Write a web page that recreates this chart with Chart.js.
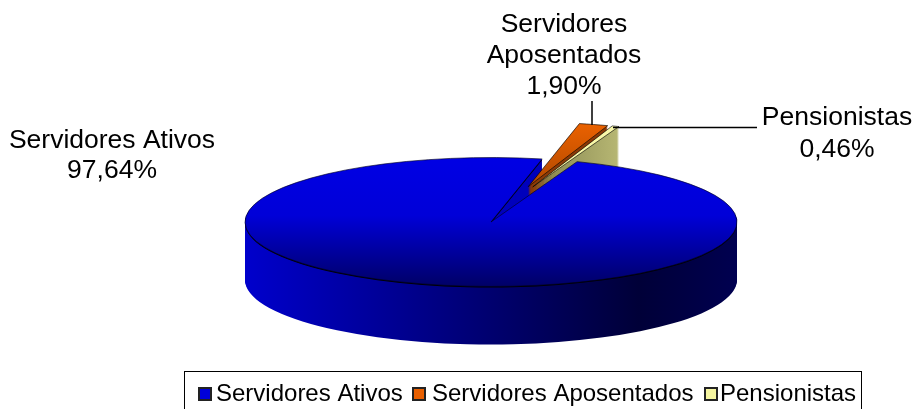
<!DOCTYPE html>
<html>
<head>
<meta charset="utf-8">
<style>
  html, body { margin: 0; padding: 0; background: #fff; }
  canvas { display: block; }
</style>
<script src="https://cdn.jsdelivr.net/npm/chart.js@4"></script>
</head>
<body>
<canvas id="pie-chart" width="915" height="409"></canvas>
<script>
const categories = ['Servidores Ativos', 'Servidores Aposentados', 'Pensionistas'];
const values = [97.64, 1.90, 0.46];
const colors = ['#0000d8', '#e85f00', '#f5f5a0'];

// look of the 3d pie
const squash = 0.262;
const depth = 58;
const explode = [0, 140, 124];
const pensLift = -4.5;

const fontName = '"Liberation Sans", Arial, sans-serif';

function percent(v) {
    return v.toFixed(2).replace('.', ',') + '%';
}

function drawArc(ctx, el, fill, stroke, dy, shift) {
    let arc = new Chart.ArcElement();
    Object.assign(arc, {
        x: el.x + Math.cos((el.startAngle + el.endAngle) / 2) * shift,
        y: el.y + Math.sin((el.startAngle + el.endAngle) / 2) * shift + dy / squash,
        startAngle: el.startAngle,
        endAngle: el.endAngle,
        circumference: el.circumference,
        innerRadius: el.innerRadius,
        outerRadius: el.outerRadius,
        options: {
            backgroundColor: fill,
            borderColor: stroke || fill,
            borderWidth: stroke ? 1 : 0,
            borderAlign: 'center',
            borderJoinStyle: 'miter',
            borderRadius: 0,
            borderDash: [],
            borderDashOffset: 0,
            circular: true,
            offset: 0,
            spacing: 0
        }
    });
    arc.draw(ctx);
}

function hGrad(ctx, x0, x1, stops) {
    let g = ctx.createLinearGradient(x0, 0, x1, 0);
    stops.forEach(s => g.addColorStop(s[0], s[1]));
    return g;
}

function vGrad(ctx, y0, y1, stops) {
    let g = ctx.createLinearGradient(0, y0, 0, y1);
    stops.forEach(s => g.addColorStop(s[0], s[1]));
    return g;
}

let pie3d = {
    id: 'pie3d',
    beforeDatasetDraw(chart, args) {
        let ctx = chart.ctx;
        let arcs = args.meta.data;
        let blue = arcs[0], orange = arcs[1], pens = arcs[2];
        let cx = blue.x, cy = blue.y, r = blue.outerRadius;

        ctx.save();
        ctx.translate(cx, cy);
        ctx.scale(1, squash);
        ctx.translate(-cx, -cy);

        let blueWall = hGrad(ctx, cx - r, cx + r, [[0, '#0000cc'], [0.35, '#00008a'], [0.8, '#000038'], [1, '#000050']]);
        for (let d = depth; d > 0; d--) {
            drawArc(ctx, blue, blueWall, null, d, 0);
        }

        // cut side of the big slice, only seen through the gap
        ctx.save();
        ctx.beginPath();
        ctx.rect(cx - r, cy - r, 2 * r, r);
        ctx.clip();
        for (let d = depth; d > 0; d--) {
            drawArc(ctx, blue, '#0000bc', null, d, 0);
        }
        ctx.restore();

        for (let d = depth; d > 0; d--) {
            drawArc(ctx, orange, '#8a3a08', null, d, explode[1]);
        }
        let olive = hGrad(ctx, cx + 30, cx + 130, [[0, '#7c7c48'], [1, '#b8b874']]);
        for (let d = depth; d > 0; d--) {
            drawArc(ctx, pens, olive, null, d + pensLift, explode[2]);
        }

        let orangeTop = vGrad(ctx, cy - 400, cy - 100, [[0, '#f06400'], [1, '#a84400']]);
        drawArc(ctx, orange, orangeTop, '#000000', 0, explode[1]);
        drawArc(ctx, pens, '#f8f8a8', '#000000', pensLift, explode[2]);

        // black line along the front rim, then the top face
        drawArc(ctx, blue, '#000000', null, 1, 0);
        let blueTop = vGrad(ctx, cy - r, cy + r, [[0, '#0000e4'], [0.45, '#0000d8'], [1, '#000066']]);
        drawArc(ctx, blue, blueTop, '#000020', 0, 0);

        ctx.restore();
        return false;
    },
    afterDraw(chart) {
        let ctx = chart.ctx;
        ctx.save();
        ctx.fillStyle = '#000';
        ctx.textAlign = 'center';
        ctx.textBaseline = 'middle';
        ctx.font = '26.5px ' + fontName;
        ctx.fillText(categories[0], 112, 141);
        ctx.fillText(percent(values[0]), 112, 171);
        ctx.fillText('Servidores', 564, 25);
        ctx.fillText('Aposentados', 564, 56);
        ctx.fillText(percent(values[1]), 564, 87);
        ctx.fillText(categories[2], 837, 118);
        ctx.fillText(percent(values[2]), 837, 150);

        // leader lines
        ctx.strokeStyle = '#000';
        ctx.lineWidth = 1.5;
        ctx.beginPath();
        ctx.moveTo(592, 101);
        ctx.lineTo(592, 125);
        ctx.moveTo(613, 127.5);
        ctx.lineTo(757, 127.5);
        ctx.stroke();

        // legend
        ctx.lineWidth = 1;
        ctx.strokeRect(184.5, 371.5, 677, 40);
        ctx.font = '24px ' + fontName;
        ctx.textAlign = 'left';
        let boxX = [199, 413, 705];
        let textX = [216, 432, 720];
        categories.forEach((name, i) => {
            ctx.fillStyle = colors[i];
            ctx.lineWidth = 2;
            ctx.strokeStyle = '#222';
            ctx.fillRect(boxX[i], 388, 12, 12);
            ctx.strokeRect(boxX[i], 388, 12, 12);
            ctx.fillStyle = '#000';
            ctx.fillText(name, textX[i], 394);
        });
        ctx.restore();
    }
};

new Chart(document.getElementById('pie-chart'), {
    type: 'pie',
    data: {
        labels: categories,
        datasets: [{
            data: values,
            backgroundColor: colors,
            clip: false
        }]
    },
    options: {
        responsive: false,
        animation: false,
        radius: 246,
        rotation: 20.5,
        layout: { padding: { left: 67, top: 35, right: 0, bottom: 0 } },
        plugins: {
            legend: { display: false },
            tooltip: { enabled: false }
        }
    },
    plugins: [pie3d]
});
</script>
</body>
</html>
